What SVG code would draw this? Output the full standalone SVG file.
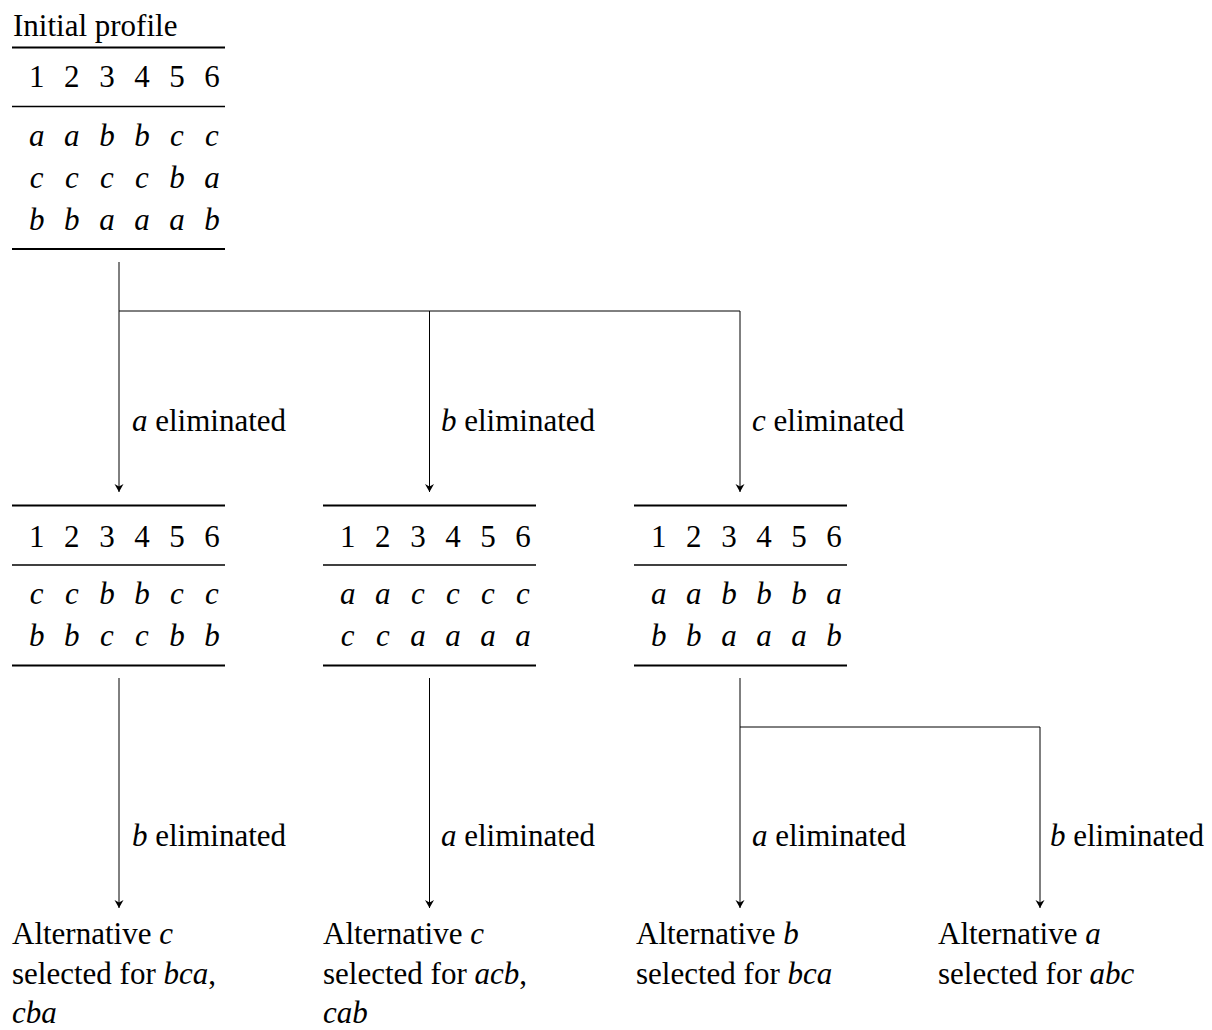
<svg xmlns="http://www.w3.org/2000/svg" width="1212" height="1030" viewBox="0 0 1212 1030">
<style>
text{font-family:"Liberation Serif","Times New Roman",serif;font-size:31px;fill:#000}
.i{font-style:italic}
.c{text-anchor:middle}
.thick{stroke:#000;stroke-width:2.2}
.thin{stroke:#000;stroke-width:1.3}
.conn{stroke:#000;stroke-width:1;fill:none}
</style>
<defs>
<marker id="arr" markerUnits="userSpaceOnUse" markerWidth="12" markerHeight="12" viewBox="-9 -6 10 12" refX="0" refY="0" orient="auto">
<path d="M0,0 L-8,-4.5 L-5.5,0 L-8,4.5 Z" fill="#000"/>
</marker>
</defs>

<g id="connectors">
<path class="conn" d="M119,262 V311 H740"/>
<path class="conn" d="M119,311 V492" marker-end="url(#arr)"/>
<path class="conn" d="M429.5,311 V492" marker-end="url(#arr)"/>
<path class="conn" d="M740,311 V492" marker-end="url(#arr)"/>
<path class="conn" d="M119,678 V908" marker-end="url(#arr)"/>
<path class="conn" d="M429.5,678 V908" marker-end="url(#arr)"/>
<path class="conn" d="M740,678 V727 H1040 V908" marker-end="url(#arr)"/>
<path class="conn" d="M740,727 V908" marker-end="url(#arr)"/>
<text x="132" y="431"><tspan class="i">a</tspan> eliminated</text>
<text x="441" y="431"><tspan class="i">b</tspan> eliminated</text>
<text x="752" y="431"><tspan class="i">c</tspan> eliminated</text>
<text x="132" y="846"><tspan class="i">b</tspan> eliminated</text>
<text x="441" y="846"><tspan class="i">a</tspan> eliminated</text>
<text x="752" y="846"><tspan class="i">a</tspan> eliminated</text>
<text x="1050" y="846"><tspan class="i">b</tspan> eliminated</text>
</g>

<g id="initial">
<text x="13" y="36">Initial profile</text>
<line class="thick" x1="12" y1="47.5" x2="225" y2="47.5"/>
<g class="c">
<text x="36.7" y="87">1</text><text x="71.8" y="87">2</text><text x="106.9" y="87">3</text><text x="142" y="87">4</text><text x="177" y="87">5</text><text x="212" y="87">6</text>
</g>
<line class="thin" x1="12" y1="106.5" x2="225" y2="106.5"/>
<g class="c i">
<text x="36.7" y="146">a</text><text x="71.8" y="146">a</text><text x="106.9" y="146">b</text><text x="142" y="146">b</text><text x="177" y="146">c</text><text x="212" y="146">c</text>
<text x="36.7" y="188">c</text><text x="71.8" y="188">c</text><text x="106.9" y="188">c</text><text x="142" y="188">c</text><text x="177" y="188">b</text><text x="212" y="188">a</text>
<text x="36.7" y="230">b</text><text x="71.8" y="230">b</text><text x="106.9" y="230">a</text><text x="142" y="230">a</text><text x="177" y="230">a</text><text x="212" y="230">b</text>
</g>
<line class="thick" x1="12" y1="249" x2="225" y2="249"/>
</g>

<g id="profileA">
<line class="thick" x1="12" y1="505.5" x2="225" y2="505.5"/>
<g class="c">
<text x="36.7" y="547">1</text><text x="71.8" y="547">2</text><text x="106.9" y="547">3</text><text x="142" y="547">4</text><text x="177" y="547">5</text><text x="212" y="547">6</text>
</g>
<line class="thin" x1="12" y1="565" x2="225" y2="565"/>
<g class="c i">
<text x="36.7" y="604">c</text><text x="71.8" y="604">c</text><text x="106.9" y="604">b</text><text x="142" y="604">b</text><text x="177" y="604">c</text><text x="212" y="604">c</text>
<text x="36.7" y="646">b</text><text x="71.8" y="646">b</text><text x="106.9" y="646">c</text><text x="142" y="646">c</text><text x="177" y="646">b</text><text x="212" y="646">b</text>
</g>
<line class="thick" x1="12" y1="665.5" x2="225" y2="665.5"/>
</g>

<g id="profileB">
<line class="thick" x1="323" y1="505.5" x2="536" y2="505.5"/>
<g class="c">
<text x="347.7" y="547">1</text><text x="382.8" y="547">2</text><text x="417.9" y="547">3</text><text x="453" y="547">4</text><text x="488" y="547">5</text><text x="523" y="547">6</text>
</g>
<line class="thin" x1="323" y1="565" x2="536" y2="565"/>
<g class="c i">
<text x="347.7" y="604">a</text><text x="382.8" y="604">a</text><text x="417.9" y="604">c</text><text x="453" y="604">c</text><text x="488" y="604">c</text><text x="523" y="604">c</text>
<text x="347.7" y="646">c</text><text x="382.8" y="646">c</text><text x="417.9" y="646">a</text><text x="453" y="646">a</text><text x="488" y="646">a</text><text x="523" y="646">a</text>
</g>
<line class="thick" x1="323" y1="665.5" x2="536" y2="665.5"/>
</g>

<g id="profileC">
<line class="thick" x1="634" y1="505.5" x2="847" y2="505.5"/>
<g class="c">
<text x="658.7" y="547">1</text><text x="693.8" y="547">2</text><text x="728.9" y="547">3</text><text x="764" y="547">4</text><text x="799" y="547">5</text><text x="834" y="547">6</text>
</g>
<line class="thin" x1="634" y1="565" x2="847" y2="565"/>
<g class="c i">
<text x="658.7" y="604">a</text><text x="693.8" y="604">a</text><text x="728.9" y="604">b</text><text x="764" y="604">b</text><text x="799" y="604">b</text><text x="834" y="604">a</text>
<text x="658.7" y="646">b</text><text x="693.8" y="646">b</text><text x="728.9" y="646">a</text><text x="764" y="646">a</text><text x="799" y="646">a</text><text x="834" y="646">b</text>
</g>
<line class="thick" x1="634" y1="665.5" x2="847" y2="665.5"/>
</g>

<g id="resultA">
<text x="12" y="944">Alternative <tspan class="i">c</tspan></text>
<text x="12" y="984">selected for <tspan class="i">bca</tspan>,</text>
<text x="12" y="1023" class="i">cba</text>
</g>
<g id="resultB">
<text x="323" y="944">Alternative <tspan class="i">c</tspan></text>
<text x="323" y="984">selected for <tspan class="i">acb</tspan>,</text>
<text x="323" y="1023" class="i">cab</text>
</g>
<g id="resultC">
<text x="636" y="944">Alternative <tspan class="i">b</tspan></text>
<text x="636" y="984">selected for <tspan class="i">bca</tspan></text>
</g>
<g id="resultD">
<text x="938" y="944">Alternative <tspan class="i">a</tspan></text>
<text x="938" y="984">selected for <tspan class="i">abc</tspan></text>
</g>
</svg>
